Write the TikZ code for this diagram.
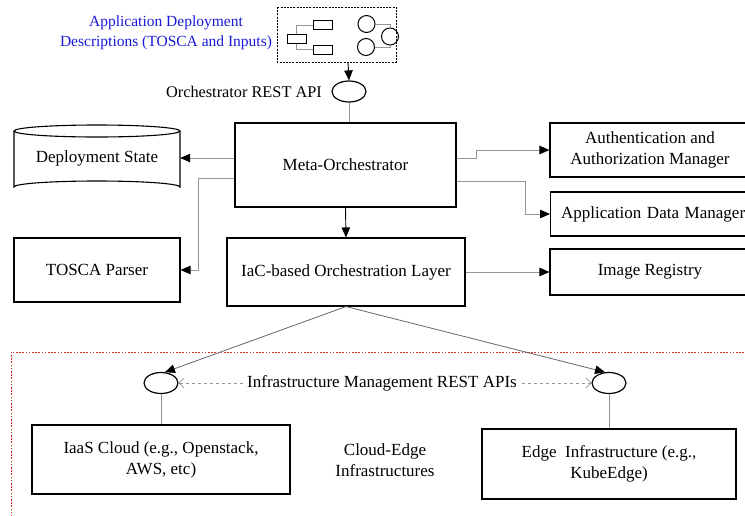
\documentclass[tikz,border=0pt]{standalone}
\usepackage{fontspec}
\setmainfont{Liberation Serif}
\usetikzlibrary{arrows.meta,shapes.geometric,calc}
\definecolor{descblue}{RGB}{25,25,215}
\definecolor{linegray}{RGB}{150,150,150}
\definecolor{dotred}{RGB}{215,50,40}
\tikzset{
  box/.style={draw, line width=1.1pt, inner sep=2pt, align=center,
    font=\fontsize{17}{21}\selectfont},
  port/.style={draw, ellipse, line width=1.2pt, inner sep=0pt,
    minimum width=34pt, minimum height=21pt},
  conn/.style={draw=linegray, line width=0.8pt,
    -{Triangle[length=10pt,width=8.5pt,fill=black,color=black]}},
  link/.style={draw=linegray, line width=0.8pt},
  icorect/.style={draw, line width=1pt, inner sep=0pt, minimum width=19pt, minimum height=9pt},
  icocirc/.style={draw, circle, line width=1pt, inner sep=0pt, minimum size=17pt},
  lbl/.style={font=\fontsize{17}{21}\selectfont, align=center, inner sep=1pt},
}
\begin{document}
\begin{tikzpicture}[x=1pt,y=-1pt]
\useasboundingbox (0,0) rectangle (745,515);

% deployment description box with its small icons
\draw[line width=1pt, dash pattern=on 2pt off 1.2pt] (277,7) rectangle (396,62);
\node[icorect] (r1) at (296.5,38.5) {};
\node[icorect] (r2) at (323,25) {};
\node[icorect] (r3) at (323,49.5) {};
\draw[link] (r1.north) |- (r2.west);
\draw[link] (r1.south) |- (r3.west);
\node[icocirc] (c1) at (366.5,24) {};
\node[icocirc] (c2) at (366,47) {};
\node[icocirc] (c3) at (390,36.5) {};
\draw[link] (c1.east) -| (c3.north);
\draw[link] (c2.east) -| (c3.south);
\coordinate (descbot) at (348,62);

\node[lbl, text=descblue, font=\fontsize{15.5}{20}\selectfont] (desc) at (166,33) {Application Deployment\\Descriptions (TOSCA and Inputs)};

% orchestrator API
\node[port] (api) at (349,91.5) {};
\node[lbl, anchor=east, font=\fontsize{16.3}{20}\selectfont] (apilbl) at (323,92) {Orchestrator REST API};
\draw[line width=0.9pt, -{Triangle[length=10pt,width=8.5pt]}] (descbot) -- (api.north);

% main components
\node[box, minimum width=221pt, minimum height=84pt] (meta) at (345.5,165) {Meta-Orchestrator};
\draw[link] (api.south) -- (api.south |- meta.north);

\draw[line width=1.1pt] (14,131) -- (14,187) arc[start angle=180, end angle=360, x radius=83, y radius=6] -- (180,131);
\draw[line width=1.1pt] (97,131) ellipse[x radius=83, y radius=6];
\node[lbl, minimum width=166pt] (ds) at (97,158) {Deployment State};

\node[box, minimum width=166pt, minimum height=64pt] (tosca) at (97,270) {TOSCA Parser};
\node[box, minimum width=238pt, minimum height=68pt] (iac) at (346,272) {IaC-based Orchestration Layer};

\node[box, minimum width=200pt, minimum height=54pt] (auth) at (650,150) {Authentication and\\Authorization Manager};
\node[box, minimum height=44pt, anchor=west, inner xsep=10.5pt, text width=205pt, align=left] (app) at (550,214) {Application Data Manager};
\node[box, minimum width=200pt, minimum height=46pt] (reg) at (650,272) {Image Registry};

% connectors from the meta-orchestrator
\draw[conn] ([yshift=7pt]meta.west) -- (ds.east);
\draw[conn] ([yshift=-13pt]meta.west) -- ++(-36,0) |- (tosca.east);
\draw[conn] ([yshift=7pt]meta.east) -- ++(20,0) |- (auth.west);
\draw[conn] ([yshift=-16pt]meta.east) -- ++(69,0) |- (app.west);
\draw[line width=0.9pt, -{Triangle[length=10pt,width=8.5pt]}] (meta.south) -- (iac.north);
\draw[conn] (iac.east) -- (reg.west);

% cloud-edge infrastructures region
\draw[dotred, line width=1pt, dash pattern=on 1.6pt off 1.6pt] (760,352) -- (11,352) -- (11,530);

\node[port] (lp) at (161,383) {};
\node[port] (rp) at (609,383) {};
\draw[draw=gray!80!black, line width=0.8pt, -{Triangle[length=10pt,width=8.5pt,color=black]}] (iac.south) -- (lp.70);
\draw[draw=gray!80!black, line width=0.8pt, -{Triangle[length=10pt,width=8.5pt,color=black]}] (iac.south) -- (rp.110);
\draw[draw=linegray, line width=0.8pt, dashed, {Straight Barb[length=5pt,width=10pt]}-{Straight Barb[length=5pt,width=10pt]}] (lp.east) -- (rp.west);
\node[lbl, fill=white, inner sep=2pt] (apis) at (382,383) {Infrastructure Management REST APIs};

\node[box, minimum width=258pt, minimum height=69pt] (iaas) at (161,459.5) {IaaS Cloud (e.g., Openstack,\\AWS, etc)};
\node[box, minimum width=254pt, minimum height=70pt] (edge) at (609,464) {Edge\ \ Infrastructure (e.g.,\\KubeEdge)};
\draw[link] (lp.south) -- (iaas.north);
\draw[link] (rp.south) -- (edge.north);

\node[lbl] (ce) at (385,460) {Cloud-Edge\\Infrastructures};
\end{tikzpicture}
\end{document}
